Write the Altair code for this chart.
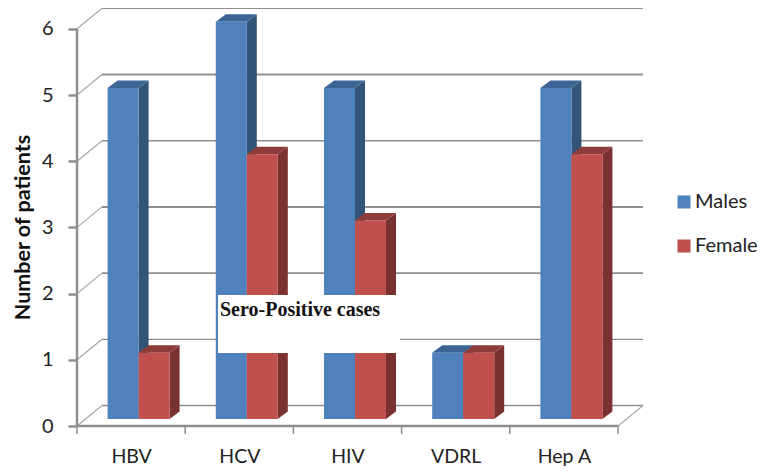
import altair as alt
import pandas as pd

categories = ["HBV", "HCV", "HIV", "VDRL", "Hep A"]
males = [5, 6, 5, 1, 5]
female = [1, 4, 3, 1, 4]
series_names = ["Males", "Female"]
front_colors = ["#4F81BD", "#C0504D"]
side_colors = ["#325478", "#7A3230"]
top_colors = ["#3C6595", "#8E3D3A"]
y_ticks = [0, 1, 2, 3, 4, 5, 6]
grid_widths = [1.5, 1.3, 1.6, 2.0, 1.4, 2.2, 1.5]

# projection constants (pixels per data unit, oblique depth offsets)
UX, UY = 108.2, 66.2
wall_dx, wall_dy = 25 / UX, 20.5 / UY
base_dx, base_dy = 7.5 / UX, 7 / UY
bar_w = 31 / UX
dep_x, dep_y = 10 / UX, 7.5 / UY

xs = alt.Scale(domain=[0, 567 / UX], nice=False, zero=False)
ys = alt.Scale(domain=[0, 418 / UY], nice=False, zero=False)

x_axis = alt.Axis(
    values=[i + 0.5 for i in range(len(categories))],
    labelExpr="[" + ",".join(f"'{c}'" for c in categories) + "][floor(datum.value)]",
    ticks=False, domain=False, grid=False, title=None,
    labelFontSize=19.5, labelFont="Lato", labelColor="#222222", labelPadding=21, labelAngle=0,
)
y_axis = alt.Axis(
    values=y_ticks, format="d", domain=False, grid=False,
    tickSize=9, tickWidth=2.5, tickColor="#8F8F8F",
    labelFontSize=20, labelFont="Lato", labelColor="#222222", labelPadding=15,
    title="Number of patients", titleFont="Lato", titleFontWeight="bold", titleFontSize=21.5,
    titleColor="#111111", titleY=219, titleX=-43,
)
X = lambda f="x": alt.X(f"{f}:Q", scale=xs, axis=x_axis)
Y = lambda f="y": alt.Y(f"{f}:Q", scale=ys, axis=y_axis)

# frame -----------------------------------------------------------------
grid = pd.DataFrame(
    [{"x": wall_dx, "x2": 5 + wall_dx, "y": t + wall_dy, "w": w} for t, w in zip(y_ticks, grid_widths)]
)
grid_layer = alt.Chart(grid).mark_rule(color="#8F8F8F").encode(
    x=X(), x2="x2:Q", y=Y(), strokeWidth=alt.StrokeWidth("w:Q", scale=None)
)

seg = []
for t in y_ticks:
    seg += [{"k": f"d{t}", "x": 0, "y": t}, {"k": f"d{t}", "x": wall_dx, "y": t + wall_dy}]
seg += [{"k": "r", "x": 5, "y": 0}, {"k": "r", "x": 5 + wall_dx, "y": wall_dy}]
diag_layer = alt.Chart(pd.DataFrame(seg)).mark_line(color="#A6A6A6", strokeWidth=1.2).encode(
    x=X(), y=Y(), detail="k:N"
)

axis_layer = alt.Chart(pd.DataFrame({"x": [0], "y": [0], "y2": [6]})).mark_rule(
    color="#8F8F8F", strokeWidth=2.5
).encode(x=X(), y=Y(), y2="y2:Q")
floor_layer = alt.Chart(pd.DataFrame({"x": [0], "x2": [5], "y": [0]})).mark_rule(
    color="#8F8F8F", strokeWidth=2.5
).encode(x=X(), x2="x2:Q", y=Y())
tick_layer = alt.Chart(pd.DataFrame({"x": list(range(6))})).mark_rule(
    color="#8F8F8F", strokeWidth=1.5
).encode(x=X(), y=alt.value(418), y2=alt.value(426))

# bars ------------------------------------------------------------------
layers = [grid_layer, diag_layer, axis_layer, floor_layer, tick_layer]
for s, (name, values) in enumerate(zip(series_names, [males, female])):
    side, top, front = [], [], []
    for i, v in enumerate(values):
        left = i + 0.5 + base_dx - bar_w + s * bar_w
        right = left + bar_w
        y0, y1 = base_dy, base_dy + v
        side += [
            {"k": i, "x": right, "y": y0, "y2": y1},
            {"k": i, "x": right + dep_x, "y": y0 + dep_y, "y2": y1 + dep_y},
        ]
        top += [
            {"k": i, "y": y1, "x": left, "x2": right},
            {"k": i, "y": y1 + dep_y, "x": left + dep_x, "x2": right + dep_x},
        ]
        front.append({"x": left, "x2": right, "y": y0, "y2": y1, "series": name})
    layers.append(alt.Chart(pd.DataFrame(side)).mark_area(color=side_colors[s], opacity=1).encode(
        x=X(), y=Y(), y2="y2:Q", detail="k:N"))
    layers.append(alt.Chart(pd.DataFrame(top)).mark_area(orient="horizontal", color=top_colors[s], opacity=1).encode(
        x=X(), x2="x2:Q", y=Y(), detail="k:N"))
    layers.append(alt.Chart(pd.DataFrame(front)).mark_rect(opacity=1).encode(
        x=X(), x2="x2:Q", y=Y(), y2="y2:Q",
        color=alt.Color("series:N", scale=alt.Scale(domain=series_names, range=front_colors),
                        legend=alt.Legend(
                            orient="none", legendX=597, legendY=184, title=None,
                            symbolType="square", symbolSize=169, symbolStrokeWidth=0, symbolOpacity=1,
                            labelFont="Lato", labelFontSize=20, labelColor="#222222",
                            labelOffset=1, rowPadding=24,
                        )),
    ))

# annotation ------------------------------------------------------------
box = pd.DataFrame({"x": [141 / UX], "x2": [323 / UX], "y": [73 / UY], "y2": [131 / UY]})
layers.append(alt.Chart(box).mark_rect(color="white", opacity=1).encode(
    x=X(), x2="x2:Q", y=Y(), y2="y2:Q"))
label = pd.DataFrame({"x": [143 / UX], "y": [116 / UY], "t": ["Sero-Positive cases"]})
layers.append(alt.Chart(label).mark_text(
    align="left", baseline="middle", font="Liberation Serif", fontWeight="bold", fontSize=20, color="#111111"
).encode(x=X(), y=Y(), text="t:N"))

chart = alt.layer(*layers).properties(
    width=567, height=418,
    padding={"left": 69, "top": 0, "right": 115, "bottom": 47},
    autosize=alt.AutoSizeParams(type="none"),
    background="white",
).configure_view(stroke=None)

chart.save("out.html", embed_options={"renderer": "svg", "actions": False})
